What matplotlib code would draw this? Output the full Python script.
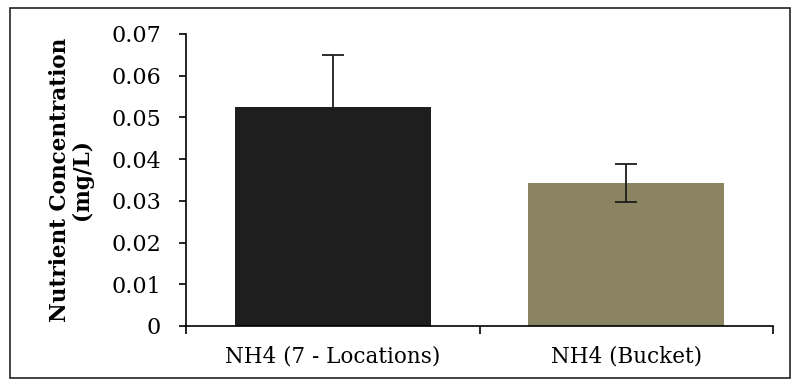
import matplotlib.pyplot as plt
from matplotlib.patches import Rectangle

# Data
categories = ["NH4 (7 - Locations)", "NH4 (Bucket)"]
means = [0.0525, 0.0343]
errors = [0.0125, 0.0046]
bar_colors = ["#1e1e1e", "#8a8463"]
err_colors = ["#1e1e1e", "#1c1c1c"]
yticks = [0, 0.01, 0.02, 0.03, 0.04, 0.05, 0.06, 0.07]
ytick_labels = ["0", "0.01", "0.02", "0.03", "0.04", "0.05", "0.06", "0.07"]

plt.rcParams["font.family"] = ["DejaVu Serif"]

fig = plt.figure(figsize=(7.94, 3.92), dpi=100)
ax = fig.add_axes([0.2343, 0.1684, 0.7393, 0.7449])

positions = [0.5 + i for i in range(len(categories))]
ax.bar(positions, means, width=0.668, color=bar_colors, zorder=2)
for x, m, e, c in zip(positions, means, errors, err_colors):
    ax.errorbar(x, m, yerr=e, fmt="none", ecolor=c,
                elinewidth=1.3, capsize=8, capthick=1.3, zorder=3)

ax.set_xlim(0, len(categories))
ax.set_ylim(0, 0.07)
ax.set_yticks(yticks)
ax.set_yticklabels(ytick_labels, fontsize=16)

# category boundary ticks, labels centred between them
ax.set_xticks(range(len(categories) + 1))
ax.set_xticklabels([])
ax.set_xticks(positions, minor=True)
ax.set_xticklabels(categories, minor=True, fontsize=15.5)
ax.tick_params(axis="x", which="major", direction="out", length=6, width=1.2)
ax.tick_params(axis="x", which="minor", length=0, pad=14)
ax.tick_params(axis="y", direction="out", length=5, width=1.2, pad=13)

for side in ["top", "right"]:
    ax.spines[side].set_visible(False)
for side in ["left", "bottom"]:
    ax.spines[side].set_linewidth(1.2)

ax.set_ylabel("Nutrient Concentration\n(mg/L)", fontsize=15.5, fontweight="bold",
              linespacing=1.0, labelpad=13)

# outer frame around the chart
fig.patches.append(Rectangle((10 / 794, 14 / 392), 780 / 794, 370 / 392,
                             transform=fig.transFigure, fill=False,
                             edgecolor="#222222", linewidth=1.2))

fig.savefig("out.png", dpi=100, facecolor="white")
